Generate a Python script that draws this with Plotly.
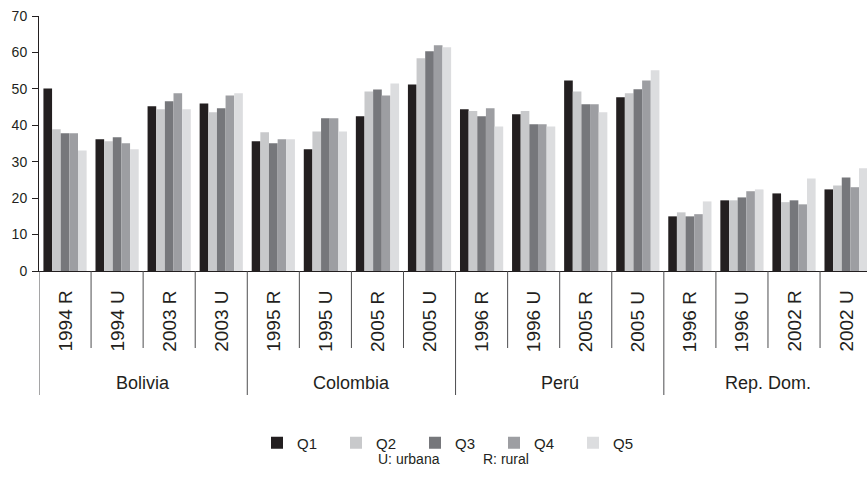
import plotly.graph_objects as go

categories = ["1994 R", "1994 U", "2003 R", "2003 U",
              "1995 R", "1995 U", "2005 R", "2005 U",
              "1996 R", "1996 U", "2005 R", "2005 U",
              "1996 R", "1996 U", "2002 R", "2002 U"]
countries = ["Bolivia", "Colombia", "Perú", "Rep. Dom."]
series_names = ["Q1", "Q2", "Q3", "Q4", "Q5"]

q1 = [50.1, 36.2, 45.2, 46.0, 35.6, 33.4, 42.5, 51.2, 44.4, 43.0, 52.3, 47.7, 15.0, 19.4, 21.3, 22.4]
q2 = [38.9, 35.6, 44.4, 43.6, 38.1, 38.3, 49.3, 58.4, 43.9, 43.9, 49.3, 48.8, 16.1, 19.4, 18.9, 23.5]
q3 = [37.8, 36.7, 46.6, 44.7, 35.1, 41.9, 49.8, 60.3, 42.5, 40.3, 45.8, 49.9, 15.0, 20.2, 19.4, 25.7]
q4 = [37.8, 35.1, 48.8, 48.2, 36.2, 41.9, 48.2, 62.0, 44.7, 40.3, 45.8, 52.3, 15.6, 21.9, 18.3, 23.0]
q5 = [33.1, 33.4, 44.4, 48.8, 36.2, 38.3, 51.5, 61.4, 39.7, 39.7, 43.6, 55.1, 19.1, 22.4, 25.4, 28.2]
series_values = [q1, q2, q3, q4, q5]

colors = ["#231f20", "#c8c9cb", "#76777b", "#9d9ea2", "#dcdddf"]
FONT = "Liberation Sans, Arial, Helvetica, sans-serif"
INK = "#231f20"

x_idx = list(range(len(categories)))

fig = go.Figure()
for name, vals, col in zip(series_names, series_values, colors):
    fig.add_trace(go.Bar(x=x_idx, y=vals, name=name, marker=dict(color=col, line=dict(width=0))))

# layout geometry
W, H = 867, 484
ml, mt, mb, mr = 39, 16, 213, 0
plot_h = H - mt - mb
cat_w = 52.07
x_max = -0.5 + (W - ml - mr) / cat_w

def py(p):
    return (H - mb - p) / plot_h

shapes = []
for i in range(len(categories)):
    long = (i % 4 == 0)
    shapes.append(dict(type="line", xref="x", yref="paper",
                       x0=i - 0.5, x1=i - 0.5, y0=0, y1=py(395 if long else 348),
                       line=dict(color="#4d4d4f", width=1)))

annotations = []
for i, c in enumerate(categories):
    annotations.append(dict(x=i, y=py(321.5), xref="x", yref="paper", text=c,
                            textangle=-90, showarrow=False, xanchor="center", yanchor="middle",
                            font=dict(family=FONT, size=19, color=INK)))
for g, c in enumerate(countries):
    annotations.append(dict(x=g * 4 + 1.5, y=py(383), xref="x", yref="paper", text=c,
                            showarrow=False, xanchor="center", yanchor="middle",
                            font=dict(family=FONT, size=18, color=INK)))
annotations.append(dict(x=(409 - ml) / (W - ml), y=py(459), xref="paper", yref="paper",
                        text="U: urbana", showarrow=False, xanchor="center", yanchor="middle",
                        font=dict(family=FONT, size=14, color=INK)))
annotations.append(dict(x=(506 - ml) / (W - ml), y=py(459), xref="paper", yref="paper",
                        text="R: rural", showarrow=False, xanchor="center", yanchor="middle",
                        font=dict(family=FONT, size=14, color=INK)))

fig.update_layout(
    width=W, height=H,
    margin=dict(l=ml, r=mr, t=mt, b=mb, pad=0, autoexpand=False),
    paper_bgcolor="white", plot_bgcolor="white",
    barmode="group", bargap=0.17, bargroupgap=0,
    font=dict(family=FONT, color=INK),
    xaxis=dict(range=[-0.5, x_max], showgrid=False, zeroline=False, showticklabels=False,
               ticks="", showline=True, linecolor=INK, linewidth=1, fixedrange=True),
    yaxis=dict(range=[0, 70], tickvals=[0, 10, 20, 30, 40, 50, 60, 70], showgrid=False,
               zeroline=False, showline=True, linecolor=INK, linewidth=1,
               ticks="outside", ticklen=6, tickcolor=INK, tickwidth=1,
               tickfont=dict(family=FONT, size=14, color=INK), ticklabelstandoff=2),
    legend=dict(orientation="h", x=(257 - ml) / (W - ml), y=py(443), xanchor="left", yanchor="middle",
                font=dict(family=FONT, size=15, color=INK), entrywidth=34, entrywidthmode="pixels",
                bgcolor="rgba(0,0,0,0)", traceorder="normal"),
    shapes=shapes, annotations=annotations,
    showlegend=True,
)

fig.write_html("out.html", config={"displayModeBar": False},
               post_script="document.body.style.margin='0';document.body.style.overflow='hidden';")
